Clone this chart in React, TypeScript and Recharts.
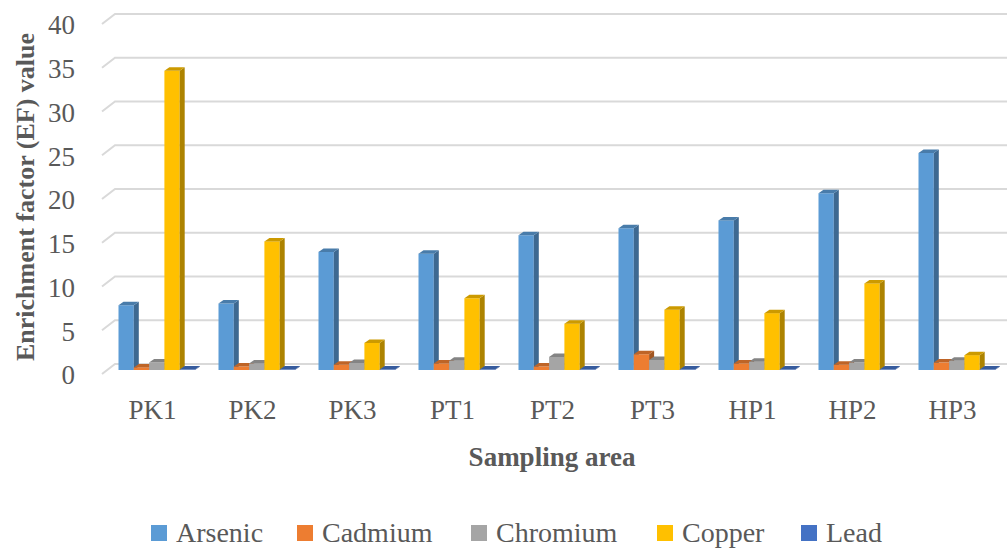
import React from 'react';
import { BarChart, Bar, XAxis, YAxis, CartesianGrid, Legend } from 'recharts';

const categories = ['PK1', 'PK2', 'PK3', 'PT1', 'PT2', 'PT3', 'HP1', 'HP2', 'HP3'];
const arsenic = [7.4, 7.6, 13.5, 13.3, 15.4, 16.2, 17.1, 20.2, 24.8];
const cadmium = [0.3, 0.4, 0.6, 0.75, 0.4, 1.8, 0.75, 0.6, 0.85];
const chromium = [0.85, 0.75, 0.8, 1.05, 1.5, 1.15, 0.95, 0.85, 1.05];
const copper = [34.2, 14.7, 3.1, 8.2, 5.3, 6.9, 6.5, 9.9, 1.7];
const lead = [0.05, 0.05, 0.05, 0.05, 0.05, 0.05, 0.05, 0.05, 0.05];
const yTicks = [0, 5, 10, 15, 20, 25, 30, 35, 40];

const SERIES = [
  { key: 'Arsenic', color: '#5b9bd5', values: arsenic },
  { key: 'Cadmium', color: '#ed7d31', values: cadmium },
  { key: 'Chromium', color: '#a5a5a5', values: chromium },
  { key: 'Copper', color: '#ffc000', values: copper },
  { key: 'Lead', color: '#4472c4', values: lead },
];
// width of each legend entry (square + text + gap)
const legendWidths = [146, 174, 186, 144, 90];

const data = categories.map((name, i) => {
  const row: Record<string, string | number> = { name };
  SERIES.forEach((s) => { row[s.key] = s.values[i]; });
  return row;
});

const TEXT = '#595959';
const FONT = '"Liberation Serif", "Times New Roman", serif';

// darken a hex colour by factor f
const shade = (hex: string, f: number) => {
  const n = parseInt(hex.slice(1), 16);
  const r = Math.round(((n >> 16) & 255) * f);
  const g = Math.round(((n >> 8) & 255) * f);
  const b = Math.round((n & 255) * f);
  return `rgb(${r},${g},${b})`;
};

// Excel-style 3D column: front face, right side, top
const Bar3D = (props: any) => {
  const { x, y, width, height, fill } = props;
  if (x == null || y == null) return null;
  const dx = 5;
  const dy = -3.5;
  const r = x + width;
  return (
    <g>
      <rect x={x} y={y} width={width} height={height} fill={fill} />
      <polygon
        points={`${r},${y} ${r + dx},${y + dy} ${r + dx},${y + height + dy} ${r},${y + height}`}
        fill={shade(fill, 0.68)}
      />
      <polygon
        points={`${x},${y} ${x + dx},${y + dy} ${r + dx},${y + dy} ${r},${y}`}
        fill={shade(fill, 0.8)}
      />
    </g>
  );
};

// gridline on side wall + back wall
const GridLine = (props: any) => {
  const { y1, index } = props;
  return (
    <path
      key={`grid-${index}`}
      d={`M102,${y1 + 4} L115,${y1 - 6} L1007,${y1 - 6}`}
      stroke="#d9d9d9"
      strokeWidth={2}
      fill="none"
    />
  );
};

const YTick = (props: any) => {
  const { y, payload } = props;
  return (
    <text x={75} y={y + 5} dy="0.35em" textAnchor="end" fill={TEXT} fontSize={27} fontFamily={FONT}>
      {payload.value}
    </text>
  );
};

const XTick = (props: any) => {
  const { x, payload } = props;
  return (
    <text x={x - 4} y={419} textAnchor="middle" fill={TEXT} fontSize={27} fontFamily={FONT}>
      {payload.value}
    </text>
  );
};

const YTitle = () => (
  <text
    x={25}
    y={197}
    transform="rotate(-90 25 197)"
    textAnchor="middle"
    dominantBaseline="central"
    fill={TEXT}
    fontSize={26}
    fontWeight="bold"
    fontFamily={FONT}
  >
    Enrichment factor (EF) value
  </text>
);

const XTitle = () => (
  <text x={552} y={466} textAnchor="middle" fill={TEXT} fontSize={27} fontWeight="bold" fontFamily={FONT}>
    Sampling area
  </text>
);

const LegendContent = () => (
  <div style={{ display: 'flex', alignItems: 'center', paddingLeft: 151, fontFamily: FONT, fontSize: 28, color: TEXT }}>
    {SERIES.map((s, i) => (
      <div key={s.key} style={{ display: 'flex', alignItems: 'center', width: legendWidths[i], whiteSpace: 'nowrap' }}>
        <span style={{ width: 16, height: 16, background: s.color, marginRight: 9, display: 'inline-block', flex: 'none' }} />
        <span>{s.key}</span>
      </div>
    ))}
  </div>
);

export default function App() {
  return (
    <div style={{ position: 'absolute', left: 0, top: 0, width: 1007, height: 549, background: '#fff' }}>
      <BarChart
        width={1007}
        height={549}
        data={data}
        margin={{ top: 20, right: 0.5, left: 0, bottom: 0 }}
        barGap={0}
        barSize={15.3}
      >
        <CartesianGrid vertical={false} horizontal={GridLine} />
        <XAxis
          dataKey="name"
          axisLine={false}
          tickLine={false}
          interval={0}
          height={179}
          tick={XTick}
          label={<XTitle />}
        />
        <YAxis
          width={106.5}
          domain={[0, 40]}
          ticks={yTicks}
          axisLine={false}
          tickLine={false}
          tick={YTick}
          label={<YTitle />}
        />
        <Legend
          layout="horizontal"
          verticalAlign="middle"
          align="center"
          wrapperStyle={{ position: 'absolute', left: 0, top: 517, width: 1007, height: 34 }}
          content={<LegendContent />}
        />
        {SERIES.map((s) => (
          <Bar key={s.key} dataKey={s.key} fill={s.color} shape={Bar3D} isAnimationActive={false} />
        ))}
      </BarChart>
    </div>
  );
}
